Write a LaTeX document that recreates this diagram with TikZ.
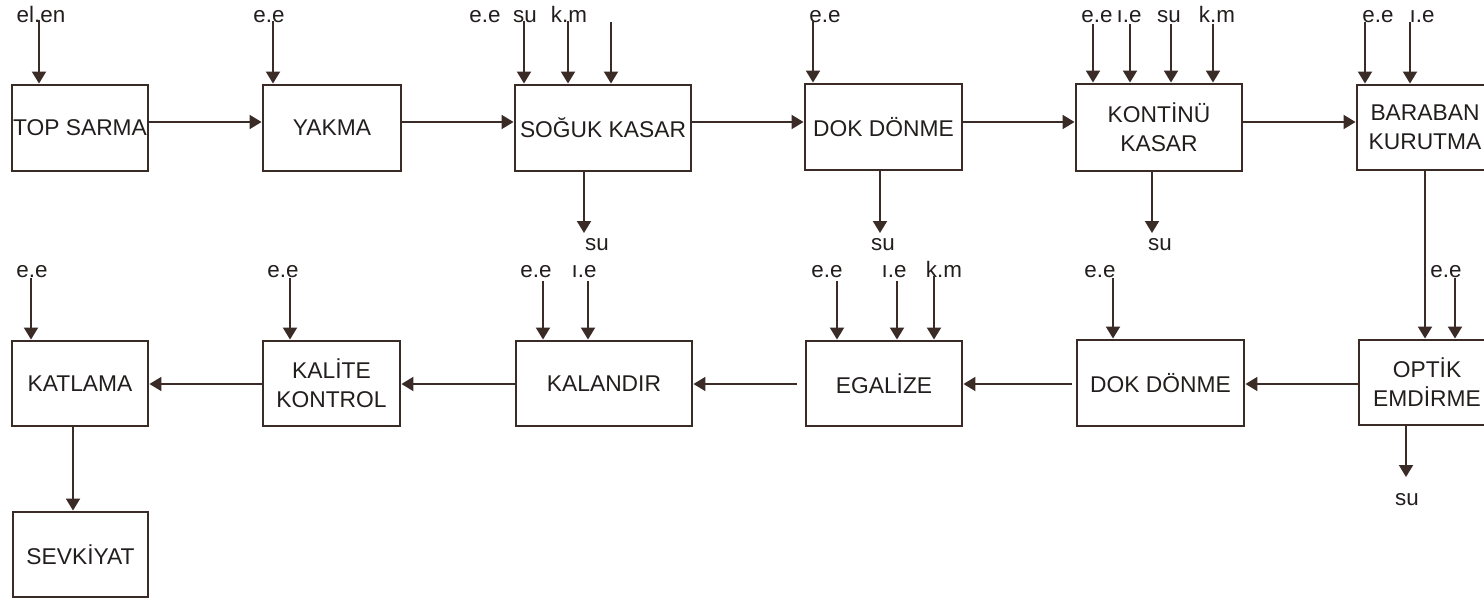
\documentclass[tikz,border=0pt]{standalone}
\usepackage{fontspec}
\setmainfont{Liberation Sans}
\usetikzlibrary{arrows.meta}
\definecolor{ink}{HTML}{3A2B27}
\definecolor{txt}{HTML}{231E1E}
\begin{document}
\begin{tikzpicture}[x=0.5pt,y=-0.5pt,
  box/.style={draw=ink,line width=1.45pt,inner sep=0pt,align=center,text=txt,
    font=\fontsize{11.4}{14.5}\selectfont},
  lbl/.style={text=txt,font=\fontsize{11.2}{13}\selectfont,inner sep=0pt,anchor=base},
  arr/.style={draw=ink,line width=1pt,-{Triangle[width=7pt,length=6pt]}}]
\useasboundingbox (0,0) rectangle (1484,599);
\clip (0,0) rectangle (1484,599);

% ---------- top row boxes ----------
\node[box,minimum width=68pt,minimum height=43pt] (n1) at (80,128) {TOP SARMA};
\node[box,minimum width=69pt,minimum height=43pt] (n2) at (332,128) {YAKMA};
\node[box,minimum width=88pt,minimum height=43pt] (n3) at (603,128) {SOĞUK KASAR};
\node[box,minimum width=78.5pt,minimum height=43pt] (n4) at (883.5,127) {DOK DÖNME};
\node[box,minimum width=83pt,minimum height=43.5pt] (n5) at (1159,127.5) {KONTİNÜ\\KASAR};
\node[box,minimum width=68pt,minimum height=42.5pt] (n6) at (1425,127.5) {BARABAN\\KURUTMA};

% ---------- bottom row boxes ----------
\node[box,minimum width=68pt,minimum height=42.5pt] (n7) at (80,383.5) {KATLAMA};
\node[box,minimum width=68.5pt,minimum height=42.5pt] (n8) at (331.5,383.5) {KALİTE\\KONTROL};
\node[box,minimum width=88pt,minimum height=42.5pt] (n9) at (604,383.5) {KALANDIR};
\node[box,minimum width=78pt,minimum height=42.5pt] (n10) at (884,383.5) {EGALİZE};
\node[box,minimum width=83.5pt,minimum height=43pt] (n11) at (1160.5,383) {DOK DÖNME};
\node[box,minimum width=68pt,minimum height=42.5pt] (n12) at (1427,382.5) {OPTİK\\EMDİRME};
\node[box,minimum width=67.5pt,minimum height=42.5pt] (n13) at (80.5,554.5) {SEVKİYAT};

% ---------- main flow ----------
\draw[arr] (n1.east |- 0,122) -- (n2.west |- 0,122);
\draw[arr] (n2.east |- 0,122) -- (n3.west |- 0,122);
\draw[arr] (n3.east |- 0,122) -- (n4.west |- 0,122);
\draw[arr] (n4.east |- 0,122) -- (n5.west |- 0,122);
\draw[arr] (n5.east |- 0,122) -- (n6.west |- 0,122);
\draw[arr] (1425,0 |- n6.south) -- (1425,0 |- n12.north);
\draw[arr] (n12.west |- 0,384) -- (n11.east |- 0,384);
\draw[arr,shorten <=2pt] (n11.west |- 0,384) -- (n10.east |- 0,384);
\draw[arr,shorten <=4pt] (n10.west |- 0,384) -- (n9.east |- 0,384);
\draw[arr] (n9.west |- 0,384) -- (n8.east |- 0,384);
\draw[arr] (n8.west |- 0,384) -- (n7.east |- 0,384);
\draw[arr] (73,0 |- n7.south) -- (73,0 |- n13.north);

% ---------- top row inputs ----------
\node[lbl] (l1) at (41,23) {el.en};
\coordinate (s1) at (39,20);
\draw[arr] (s1) -- (s1 |- n1.north);

\node[lbl] (l2) at (269,23) {e.e};
\coordinate (s2) at (273,21);
\draw[arr] (s2) -- (s2 |- n2.north);

\node[lbl] (l3a) at (485,23) {e.e};
\node[lbl] (l3b) at (525,23) {su};
\node[lbl] (l3c) at (569,23) {k.m};
\coordinate (s3a) at (524,21);
\coordinate (s3b) at (568,21);
\coordinate (s3c) at (611,22);
\draw[arr] (s3a) -- (s3a |- n3.north);
\draw[arr] (s3b) -- (s3b |- n3.north);
\draw[arr] (s3c) -- (s3c |- n3.north);

\node[lbl] (l4) at (825,23) {e.e};
\coordinate (s4) at (813,21);
\draw[arr] (s4) -- (s4 |- n4.north);

\node[lbl] (l5a) at (1097,23) {e.e};
\node[lbl] (l5b) at (1129,23) {ı.e};
\node[lbl] (l5c) at (1169,23) {su};
\node[lbl] (l5d) at (1217,23) {k.m};
\coordinate (s5a) at (1093,24);
\coordinate (s5b) at (1130,24);
\coordinate (s5c) at (1171,24);
\coordinate (s5d) at (1213,24);
\draw[arr] (s5a) -- (s5a |- n5.north);
\draw[arr] (s5b) -- (s5b |- n5.north);
\draw[arr] (s5c) -- (s5c |- n5.north);
\draw[arr] (s5d) -- (s5d |- n5.north);

\node[lbl] (l6a) at (1378,23) {e.e};
\node[lbl] (l6b) at (1422,23) {ı.e};
\coordinate (s6a) at (1365,22);
\coordinate (s6b) at (1410,22);
\draw[arr] (s6a) -- (s6a |- n6.north);
\draw[arr] (s6b) -- (s6b |- n6.north);

% ---------- top row outputs ----------
\coordinate (o3) at (584,233);
\draw[arr] (o3 |- n3.south) -- (o3);
\node[lbl] (u3) at (597,250) {su};
\coordinate (o4) at (880,233);
\draw[arr] (o4 |- n4.south) -- (o4);
\node[lbl] (u4) at (883,250) {su};
\coordinate (o5) at (1152,233);
\draw[arr] (o5 |- n5.south) -- (o5);
\node[lbl] (u5) at (1160,250) {su};

% ---------- bottom row inputs ----------
\node[lbl] (l7) at (32,278) {e.e};
\coordinate (s7) at (31,278);
\draw[arr] (s7) -- (s7 |- n7.north);

\node[lbl] (l8) at (283,278) {e.e};
\coordinate (s8) at (290,278);
\draw[arr] (s8) -- (s8 |- n8.north);

\node[lbl] (l9a) at (536,278) {e.e};
\node[lbl] (l9b) at (584,278) {ı.e};
\coordinate (s9a) at (543,281);
\coordinate (s9b) at (588,281);
\draw[arr] (s9a) -- (s9a |- n9.north);
\draw[arr] (s9b) -- (s9b |- n9.north);

\node[lbl] (l10a) at (827,278) {e.e};
\node[lbl] (l10b) at (894,278) {ı.e};
\node[lbl] (l10c) at (944,278) {k.m};
\coordinate (s10a) at (837,281);
\coordinate (s10b) at (897,281);
\coordinate (s10c) at (934,276);
\draw[arr] (s10a) -- (s10a |- n10.north);
\draw[arr] (s10b) -- (s10b |- n10.north);
\draw[arr] (s10c) -- (s10c |- n10.north);

\node[lbl] (l11) at (1100,278) {e.e};
\coordinate (s11) at (1113,278);
\draw[arr] (s11) -- (s11 |- n11.north);

\node[lbl] (l12) at (1446,278) {e.e};
\coordinate (s12) at (1455,278);
\draw[arr] (s12) -- (s12 |- n12.north);

% ---------- bottom outputs ----------
\coordinate (o12) at (1406,477);
\draw[arr] (o12 |- n12.south) -- (o12);
\node[lbl] (u12) at (1407,505) {su};
\end{tikzpicture}
\end{document}
